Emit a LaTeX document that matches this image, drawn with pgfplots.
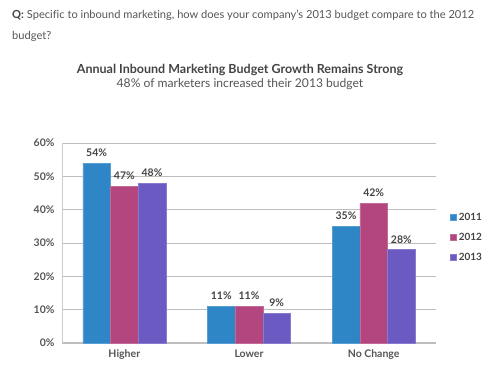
\documentclass[border=0pt]{standalone}
\usepackage{fontspec}
\setmainfont{Lato}[Ligatures={NoCommon}]
\usepackage{pgfplots}
\pgfplotsset{compat=1.18}
\definecolor{cblue}{HTML}{2E86C7}
\definecolor{cmag}{HTML}{B3467F}
\definecolor{cpur}{HTML}{6A5AC2}
\definecolor{tgray}{HTML}{555555}
\definecolor{dgray}{HTML}{444444}
\definecolor{gridc}{HTML}{BEBEBE}
\begin{document}
\begin{tikzpicture}[x=1pt,y=1pt]
\path[use as bounding box] (0,0) rectangle (500,372);
\node[anchor=west, font=\fontsize{11.1}{13}\selectfont, text=tgray, inner sep=0] at (12,357) {\textbf{\color{dgray}Q:} Specific to inbound marketing, how does your company's 2013 budget compare to the 2012};
\node[anchor=west, font=\fontsize{11.1}{13}\selectfont, text=tgray, inner sep=0] at (12,336) {budget?};
\node[font=\fontsize{12.5}{14}\selectfont\bfseries, text=dgray, inner sep=0] at (240,302) {Annual Inbound Marketing Budget Growth Remains Strong};
\node[font=\fontsize{12.1}{14}\selectfont, text=tgray, inner sep=0] at (240,288) {48\% of marketers increased their 2013 budget};
\begin{axis}[
  at={(62pt,29pt)}, anchor=south west,
  scale only axis, width=374pt, height=200pt,
  xmin=-0.5, xmax=2.5, ymin=0, ymax=60,
  ybar=0pt, bar width=27.7pt,
  xtick={0,1,2}, xticklabels={Higher,Lower,No Change},
  ytick={0,10,20,30,40,50,60},
  yticklabel={\pgfmathprintnumber{\tick}\%},
  /pgf/number format/assume math mode=true,
  ticklabel style={font=\fontsize{10.5}{12}\selectfont\bfseries, text=tgray},
  major tick length=0pt,
  ymajorgrids, grid style={draw=gridc, line width=0.8pt},
  axis x line*=bottom, axis y line*=left,
  x axis line style={draw=gridc, line width=1.4pt, -},
  y axis line style={draw=gridc!80, line width=0.8pt, -},
  yticklabel style={xshift=-4pt},
  xticklabel style={yshift=-3pt},
  nodes near coords={\pgfmathprintnumber{\pgfplotspointmeta}\%},
  nodes near coords style={font=\fontsize{10.5}{12}\selectfont\bfseries, text=dgray, yshift=3pt},
  legend style={at={(rel axis cs:1.03,0.67)}, anchor=north west, draw=none, fill=none,
    font=\fontsize{10}{11}\selectfont\bfseries, text=dgray, row sep=7pt},
  legend cell align=left,
  legend image code/.code={\fill[#1] (0pt,-3pt) rectangle (6pt,3pt);},
]
\addplot[fill=cblue, draw=cblue!80!white] coordinates {(0,54) (1,11) (2,35)};
\addplot[fill=cmag, draw=cmag!80!white] coordinates {(0,47) (1,11) (2,42)};
\addplot[fill=cpur, draw=cpur!80!white] coordinates {(0,48) (1,9) (2,28)};
\legend{2011,2012,2013}
\end{axis}
\end{tikzpicture}
\end{document}
